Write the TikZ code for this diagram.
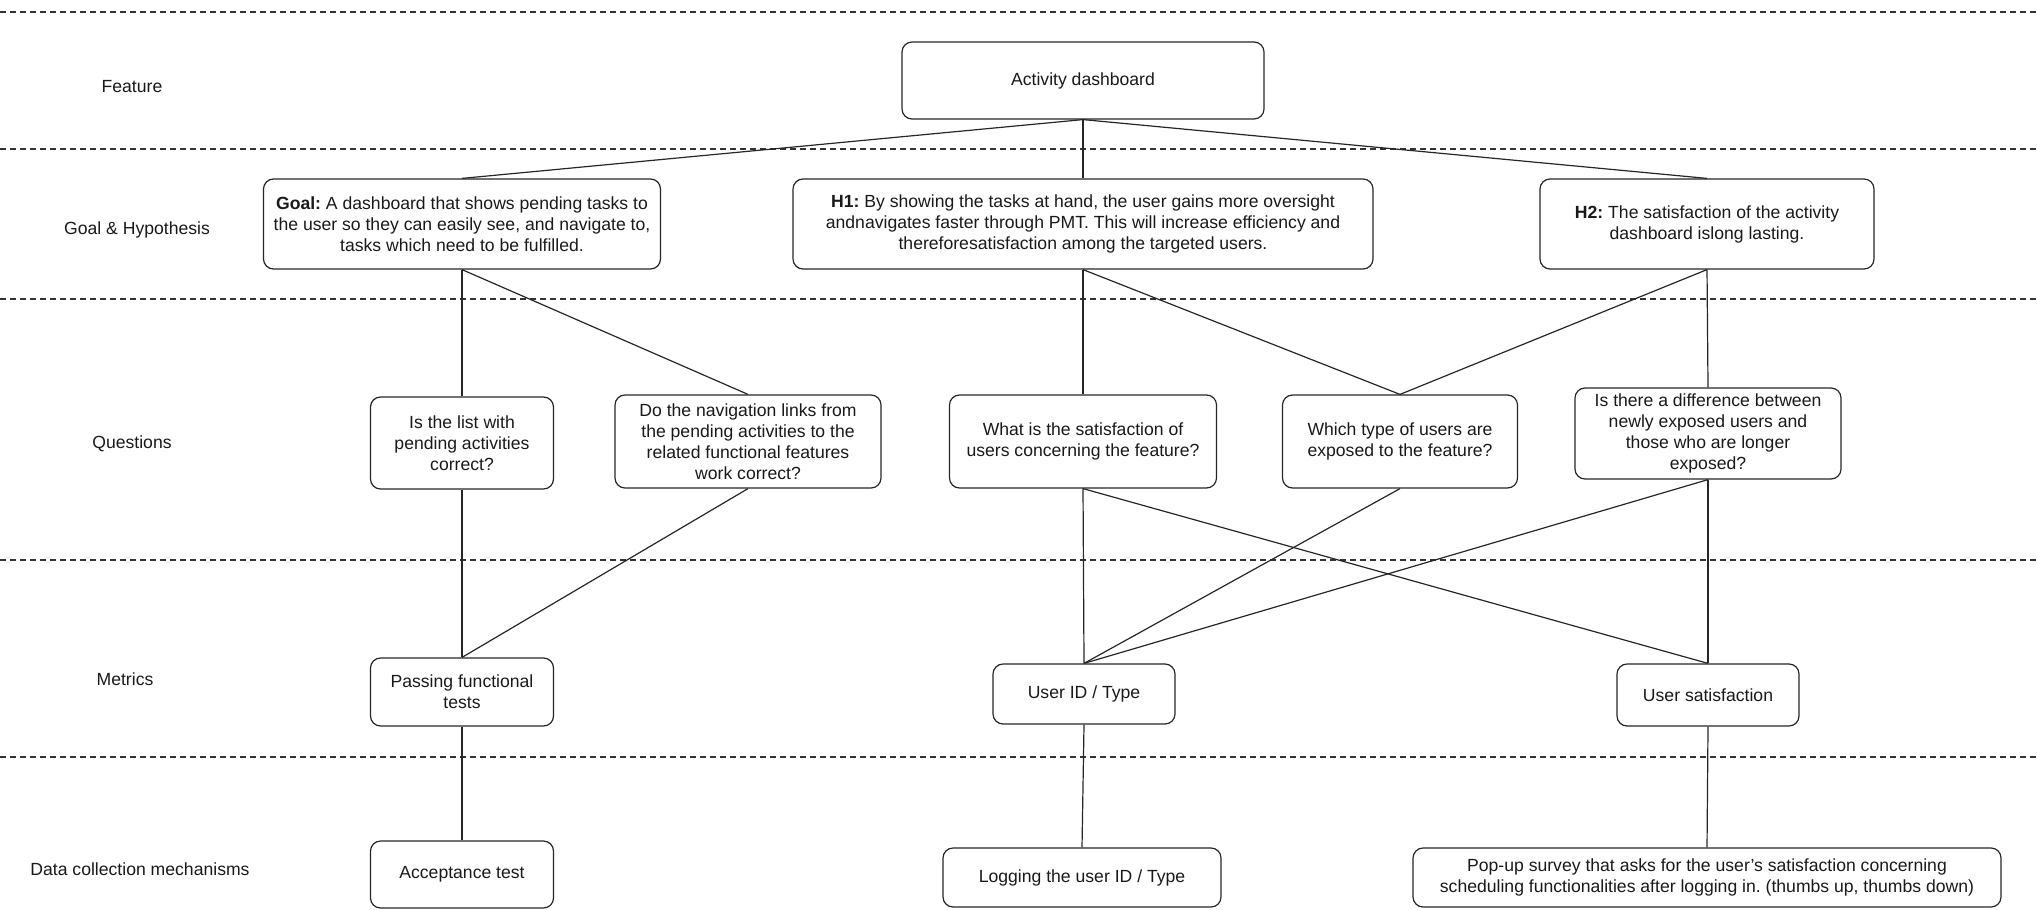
\documentclass[tikz,border=0pt]{standalone}
\usepackage{fontspec}
\setmainfont{Liberation Sans}
\frenchspacing
\begin{document}
\begin{tikzpicture}[x=0.5pt,y=-0.5pt,
  box/.style={draw=black!85, line width=0.6pt, rounded corners=5pt, align=center,
    inner sep=0pt, font=\fontsize{8.8}{10.5}\selectfont, text=black!90},
  lane/.style={draw=black!80, line width=0.55pt, dash pattern=on 3pt off 2pt},
  link/.style={draw=black!85, line width=0.6pt},
  rowlabel/.style={font=\fontsize{8.8}{10.5}\selectfont, text=black!90}]
\useasboundingbox (0,0) rectangle (2037,909);

% swimlane separators
\foreach \yy in {12,149,299,560,757}
  \draw[lane] (0,\yy) -- (2037,\yy);

% row labels
\node[rowlabel] (lfeat) at (132,87) {Feature};
\node[rowlabel] (lgoal) at (137,230) {Goal \& Hypothesis};
\node[rowlabel] (lques) at (132,444) {Questions};
\node[rowlabel] (lmetr) at (125,679) {Metrics};
\node[rowlabel] (ldata) at (140,869) {Data collection mechanisms};

% feature
\node[box, minimum width=181pt, minimum height=38.5pt] (AD) at (1083,80.5) {Activity dashboard};

% goal and hypotheses
\node[box, minimum width=198.5pt, minimum height=45pt] (G) at (462,224)
  {\textbf{Goal:} A dashboard that shows pending tasks to\\the user so they can easily see, and navigate to,\\tasks which need to be fulfilled.};
\node[box, minimum width=290pt, minimum height=45pt] (H1) at (1083,224)
  {\textbf{H1:} By showing the tasks at hand, the user gains more oversight\\andnavigates faster through PMT. This will increase efficiency and\\thereforesatisfaction among the targeted users.};
\node[box, minimum width=167pt, minimum height=45pt] (H2) at (1707,224)
  {\textbf{H2:} The satisfaction of the activity\\dashboard islong lasting.};

% questions
\node[box, minimum width=91.5pt, minimum height=46pt] (Q1) at (462,443)
  {Is the list with\\pending activities\\correct?};
\node[box, minimum width=133pt, minimum height=46.5pt] (Q2) at (748,441.5)
  {Do the navigation links from\\the pending activities to the\\related functional features\\work correct?};
\node[box, minimum width=133.5pt, minimum height=46.5pt] (Q3) at (1083,441.5)
  {What is the satisfaction of\\users concerning the feature?};
\node[box, minimum width=117.5pt, minimum height=46.5pt] (Q4) at (1400,441.5)
  {Which type of users are\\exposed to the feature?};
\node[box, minimum width=133pt, minimum height=45.5pt] (Q5) at (1708,433.5)
  {Is there a difference between\\newly exposed users and\\those who are longer\\exposed?};

% metrics
\node[box, minimum width=91.5pt, minimum height=34pt] (M1) at (462,692)
  {Passing functional\\tests};
\node[box, minimum width=91pt, minimum height=30pt] (M2) at (1084,694) {User ID / Type};
\node[box, minimum width=91pt, minimum height=31pt] (M3) at (1708,695) {User satisfaction};

% data collection mechanisms
\node[box, minimum width=91.5pt, minimum height=33.5pt] (D1) at (462,874.5) {Acceptance test};
\node[box, minimum width=139pt, minimum height=29.5pt] (D2) at (1082,877.5) {Logging the user ID / Type};
\node[box, minimum width=294pt, minimum height=29.5pt] (D3) at (1707,877.5)
  {Pop-up survey that asks for the user's satisfaction concerning\\scheduling functionalities after logging in. (thumbs up, thumbs down)};

% connectors
\draw[link] (AD.south) -- (G.north);
\draw[link] (AD.south) -- (H1.north);
\draw[link] (AD.south) -- (H2.north);

\draw[link] (G.south) -- (Q1.north);
\draw[link] (G.south) -- (Q2.north);
\draw[link] (H1.south) -- (Q3.north);
\draw[link] (H1.south) -- (Q4.north);
\draw[link] (H2.south) -- (Q4.north);
\draw[link] (H2.south) -- (Q5.north);

\draw[link] (Q1.south) -- (M1.north);
\draw[link] (Q2.south) -- (M1.north);
\draw[link] (Q3.south) -- (M2.north);
\draw[link] (Q3.south) -- (M3.north);
\draw[link] (Q4.south) -- (M2.north);
\draw[link] (Q5.south) -- (M2.north);
\draw[link] (Q5.south) -- (M3.north);

\draw[link] (M1.south) -- (D1.north);
\draw[link] (M2.south) -- (D2.north);
\draw[link] (M3.south) -- (D3.north);
\end{tikzpicture}
\end{document}
